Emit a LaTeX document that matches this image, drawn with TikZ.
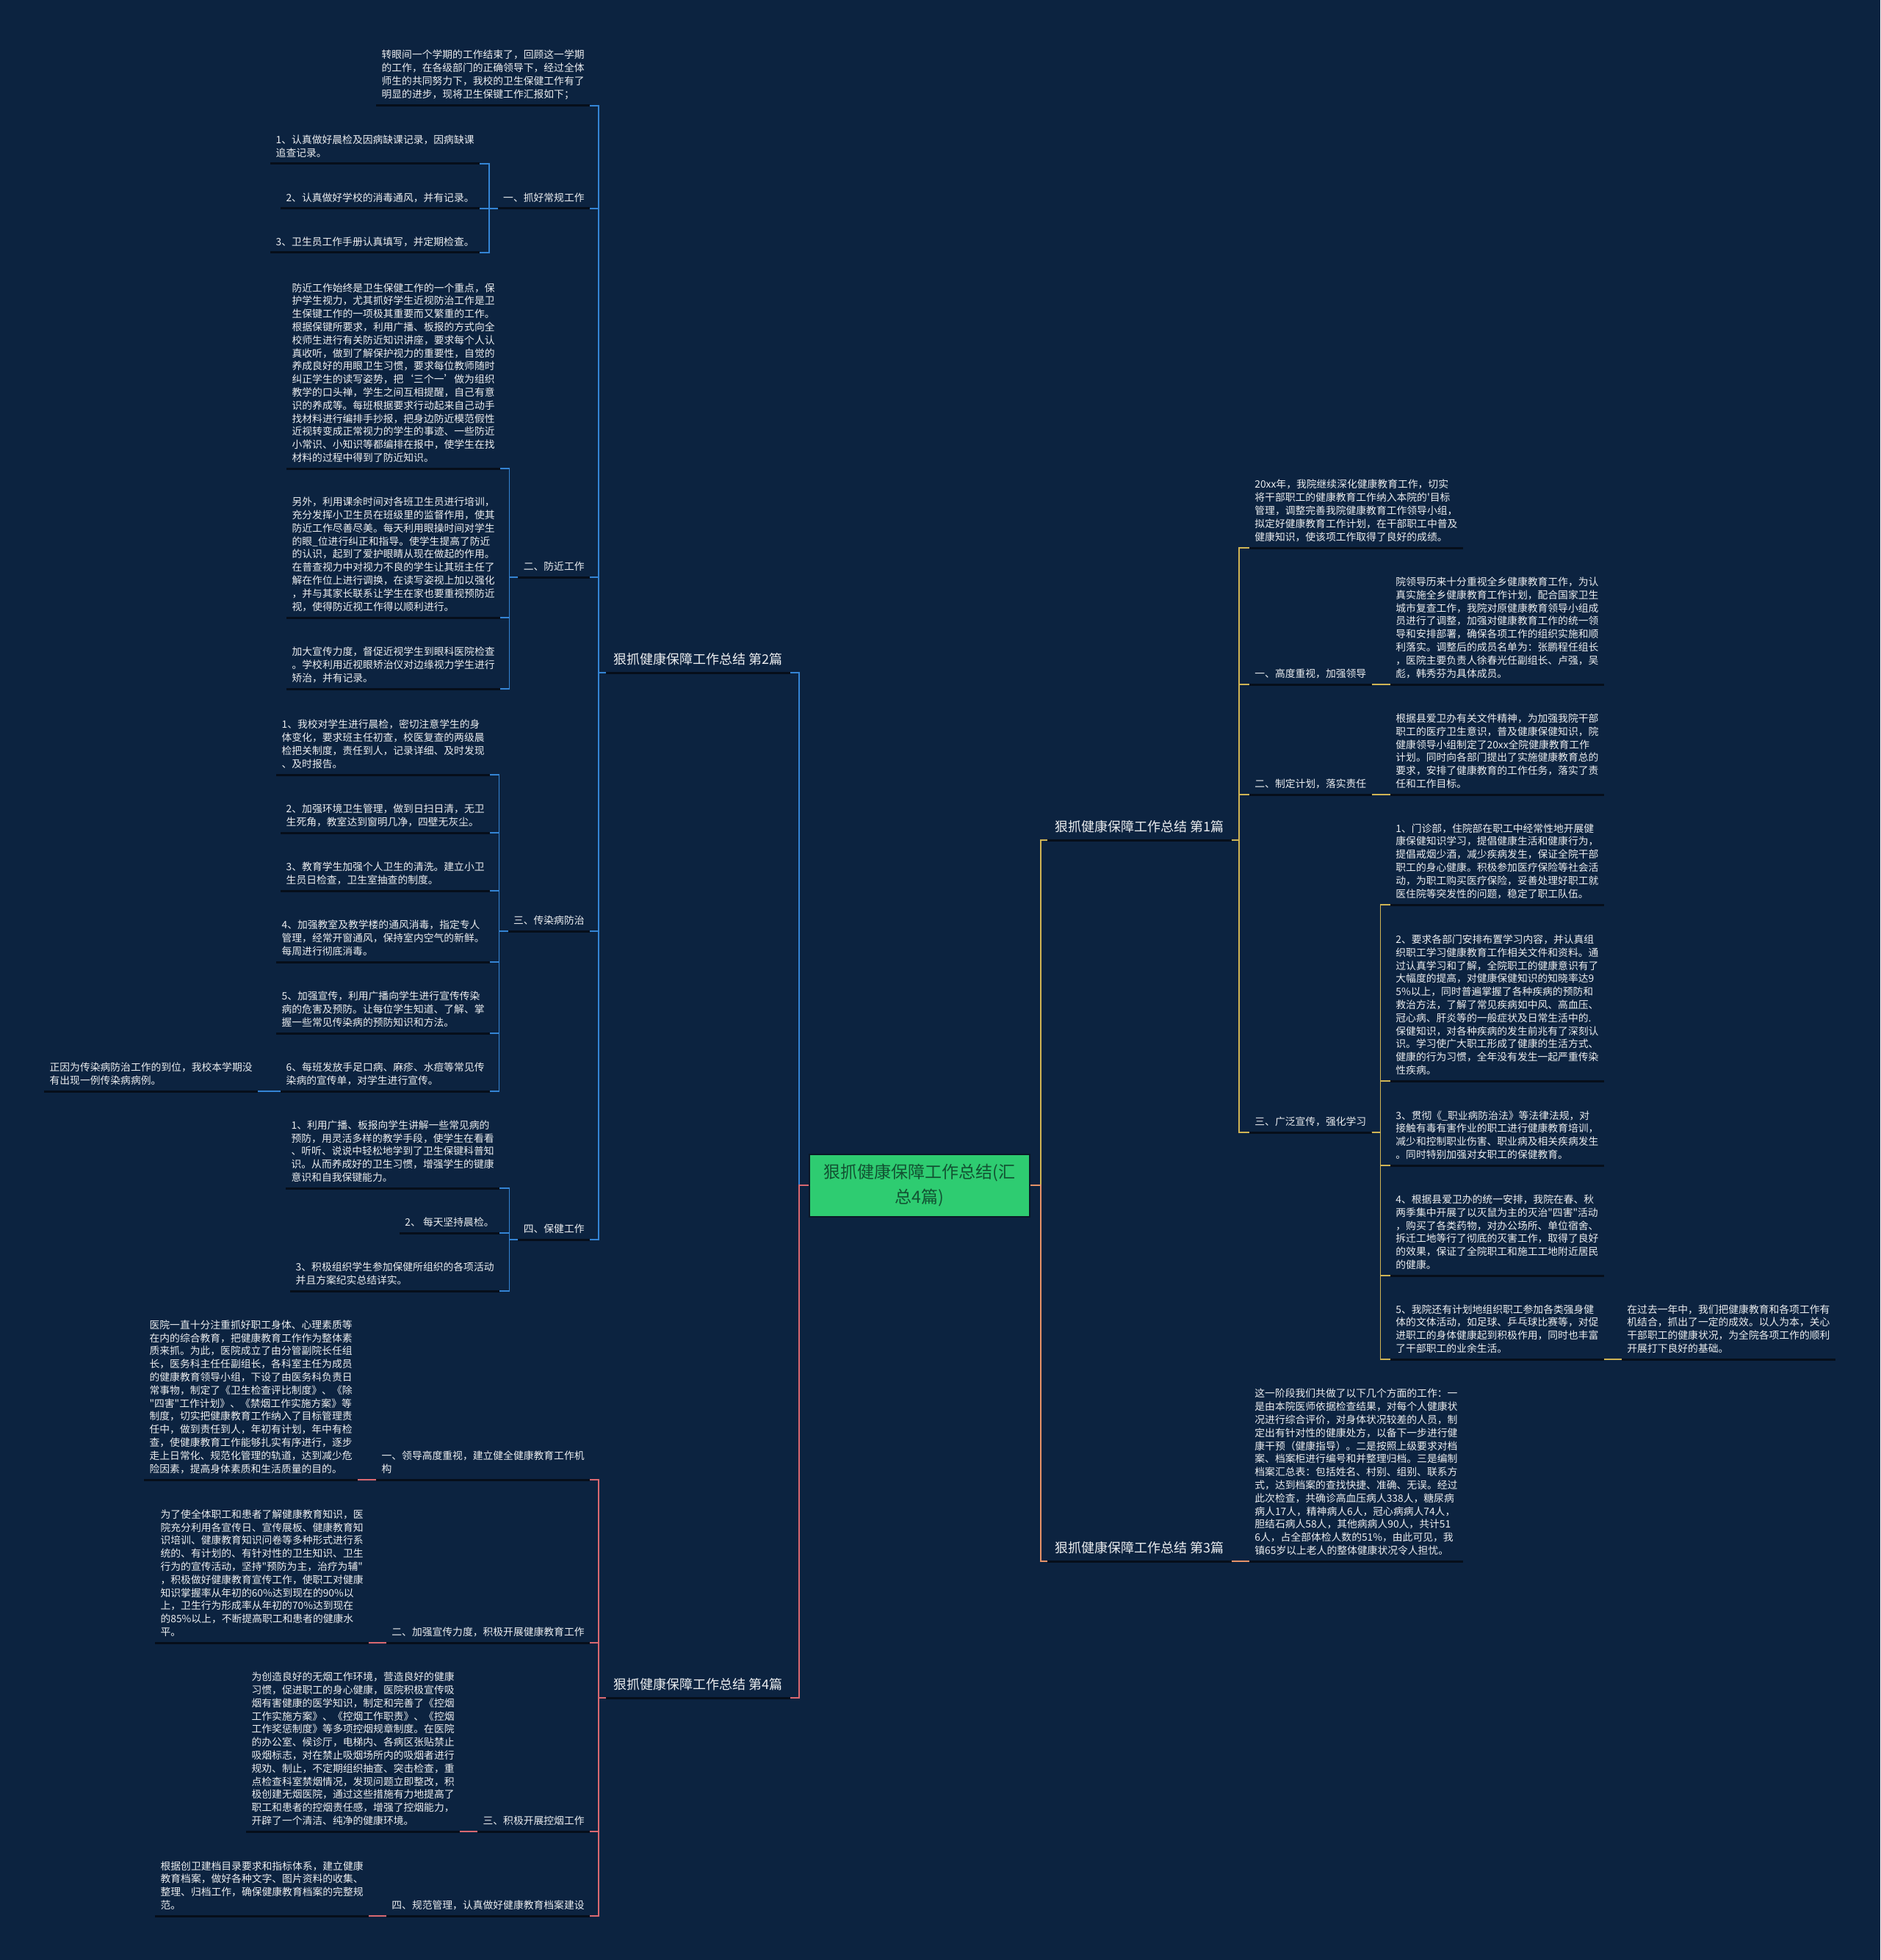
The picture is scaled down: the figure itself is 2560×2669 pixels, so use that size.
\documentclass[tikz,border=0pt]{standalone}
\usepackage{fontspec}
\newfontfamily\cjkfont{Noto Sans CJK SC}
\usetikzlibrary{positioning}

\definecolor{bgnavy}{RGB}{12,35,64}
\definecolor{ulinecol}{RGB}{6,14,26}
\definecolor{leaftext}{RGB}{236,238,240}
\definecolor{hubgreen}{RGB}{46,204,113}
\definecolor{hubtext}{RGB}{18,82,50}
\definecolor{hubedge}{RGB}{10,24,40}
\definecolor{bluecol}{RGB}{52,132,212}
\definecolor{pinkcol}{RGB}{218,104,112}
\definecolor{goldcol}{RGB}{208,180,84}
\definecolor{orangecol}{RGB}{230,146,104}

\newcommand{\leaffont}{\cjkfont\fontsize{6.9pt}{8.9pt}\selectfont}
\newcommand{\titlefont}{\cjkfont\fontsize{9pt}{11pt}\selectfont}
\newcommand{\hubfont}{\cjkfont\fontsize{11.5pt}{17pt}\selectfont}

\begin{document}
\begin{tikzpicture}[
  x=0.5pt, y=-0.5pt,
  uline/.style={draw=ulinecol,line width=1.5pt},
  leaf/.style={font=\leaffont,text=leaftext,align=left,inner xsep=3.5pt,inner ysep=4pt,
               append after command={(\tikzlastnode.south west) edge[uline] (\tikzlastnode.south east)}},
  title/.style={leaf,font=\titlefont,inner xsep=5pt,inner ysep=5pt},
  hub/.style={fill=hubgreen,draw=hubedge,line width=1pt,minimum width=150pt,minimum height=42.5pt,
              inner sep=0pt,font=\hubfont,text=hubtext,align=center},
  blueline/.style={draw=bluecol,line width=0.8pt},
  pinkline/.style={draw=pinkcol,line width=0.8pt},
  goldline/.style={draw=goldcol,line width=0.8pt},
  orangeline/.style={draw=orangecol,line width=0.8pt}
]
\fill[bgnavy] (0,0) rectangle (2560,2669);
\useasboundingbox (0,0) rectangle (2560,2669);

% centre
\node[hub] (hub) at (1252,1614) {狠抓健康保障工作总结(汇\\总4篇)};

\node[title,anchor=south east] (t2) at (1076,916) {狠抓健康保障工作总结 第2篇};
\node[title,anchor=south east] (t4) at (1076,2312) {狠抓健康保障工作总结 第4篇};
\node[title,anchor=south west] (t1) at (1426,1144) {狠抓健康保障工作总结 第1篇};
\node[title,anchor=south west] (t3) at (1426,2126) {狠抓健康保障工作总结 第3篇};

\draw[blueline] (hub.west) -- ++(-13,0) |- (t2.south east);
\draw[pinkline] (hub.west) -- ++(-13,0) |- (t4.south east);
\draw[goldline] (hub.east) -- ++(14,0) |- (t1.south west);
\draw[orangeline] (hub.east) -- ++(14,0) |- (t3.south west);

% 第2篇
\node[leaf,anchor=south east] (l2intro) at (803,144) {转眼间一个学期的工作结束了，回顾这一学期\\
的工作，在各级部门的正确领导下，经过全体\\
师生的共同努力下，我校的卫生保健工作有了\\
明显的进步，现将卫生保键工作汇报如下；};

\node[leaf,anchor=south east] (l2a) at (803,284) {一、抓好常规工作};
\node[leaf,anchor=south east] (l2a1) at (653,223) {1、认真做好晨检及因病缺课记录，因病缺课\\
追查记录。};
\node[leaf,anchor=south east] (l2a2) at (653,284) {2、认真做好学校的消毒通风，并有记录。};
\node[leaf,anchor=south east] (l2a3) at (653,344) {3、卫生员工作手册认真填写，并定期检查。};

\node[leaf,anchor=south east] (l2b) at (803,786) {二、防近工作};
\node[leaf,anchor=south east] (l2b1) at (681,638) {防近工作始终是卫生保健工作的一个重点，保\\
护学生视力，尤其抓好学生近视防治工作是卫\\
生保键工作的一项极其重要而又繁重的工作。\\
根据保键所要求，利用广播、板报的方式向全\\
校师生进行有关防近知识讲座，要求每个人认\\
真收听，做到了解保护视力的重要性，自觉的\\
养成良好的用眼卫生习惯，要求每位教师随时\\
纠正学生的读写姿势，把‘三个一’做为组织\\
教学的口头禅，学生之间互相提醒，自己有意\\
识的养成等。每班根据要求行动起来自己动手\\
找材料进行编排手抄报，把身边防近模范假性\\
近视转变成正常视力的学生的事迹、一些防近\\
小常识、小知识等都编排在报中，使学生在找\\
材料的过程中得到了防近知识。};
\node[leaf,anchor=south east] (l2b2) at (681,841) {另外，利用课余时间对各班卫生员进行培训，\\
充分发挥小卫生员在班级里的监督作用，使其\\
防近工作尽善尽美。每天利用眼操时间对学生\\
的眼\_位进行纠正和指导。使学生提高了防近\\
的认识，起到了爱护眼睛从现在做起的作用。\\
在普查视力中对视力不良的学生让其班主任了\\
解在作位上进行调换，在读写姿视上加以强化\\
，并与其家长联系让学生在家也要重视预防近\\
视，使得防近视工作得以顺利进行。};
\node[leaf,anchor=south east] (l2b3) at (681,938) {加大宣传力度，督促近视学生到眼科医院检查\\
。学校利用近视眼矫治仪对边缘视力学生进行\\
矫治，并有记录。};

\node[leaf,anchor=south east] (l2c) at (803,1268) {三、传染病防治};
\node[leaf,anchor=south east] (l2c1) at (667,1055) {1、我校对学生进行晨检，密切注意学生的身\\
体变化，要求班主任初查，校医复查的两级晨\\
检把关制度，责任到人，记录详细、及时发现\\
、及时报告。};
\node[leaf,anchor=south east] (l2c2) at (667,1134) {2、加强环境卫生管理，做到日扫日清，无卫\\
生死角，教室达到窗明几净，四壁无灰尘。};
\node[leaf,anchor=south east] (l2c3) at (667,1213) {3、教育学生加强个人卫生的清洗。建立小卫\\
生员日检查，卫生室抽查的制度。};
\node[leaf,anchor=south east] (l2c4) at (667,1310) {4、加强教室及教学楼的通风消毒，指定专人\\
管理，经常开窗通风，保持室内空气的新鲜。\\
每周进行彻底消毒。};
\node[leaf,anchor=south east] (l2c5) at (667,1407) {5、加强宣传，利用广播向学生进行宣传传染\\
病的危害及预防。让每位学生知道、了解、掌\\
握一些常见传染病的预防知识和方法。};
\node[leaf,anchor=south east] (l2c6) at (667,1486) {6、每班发放手足口病、麻疹、水痘等常见传\\
染病的宣传单，对学生进行宣传。};
\node[leaf,anchor=south east] (l2c6a) at (351,1486) {正因为传染病防治工作的到位，我校本学期没\\
有出现一例传染病病例。};

\node[leaf,anchor=south east] (l2d) at (803,1688) {四、保健工作};
\node[leaf,anchor=south east] (l2d1) at (680,1618) {1、利用广播、板报向学生讲解一些常见病的\\
预防，用灵活多样的教学手段，使学生在看看\\
、听听、说说中轻松地学到了卫生保键科普知\\
识。从而养成好的卫生习惯，增强学生的键康\\
意识和自我保键能力。};
\node[leaf,anchor=south east] (l2d2) at (680,1679) {2、 每天坚持晨检。};
\node[leaf,anchor=south east] (l2d3) at (680,1758) {3、积极组织学生参加保健所组织的各项活动\\
并且方案纪实总结详实。};

\foreach \n in {l2intro,l2a,l2b,l2c,l2d}
  \draw[blueline] (t2.south west) -- ++(-10,0) |- (\n.south east);
\foreach \n in {l2a1,l2a2,l2a3}
  \draw[blueline] (l2a.south west) -- ++(-12,0) |- (\n.south east);
\foreach \n in {l2b1,l2b2,l2b3}
  \draw[blueline] (l2b.south west) -- ++(-12,0) |- (\n.south east);
\foreach \n in {l2c1,l2c2,l2c3,l2c4,l2c5,l2c6}
  \draw[blueline] (l2c.south west) -- ++(-12,0) |- (\n.south east);
\foreach \n in {l2d1,l2d2,l2d3}
  \draw[blueline] (l2d.south west) -- ++(-12,0) |- (\n.south east);
\draw[blueline] (l2c6.south west) -- (l2c6a.south east);

% 第4篇
\node[leaf,anchor=south east] (l4a) at (803,2015) {一、领导高度重视，建立健全健康教育工作机\\
构};
\node[leaf,anchor=south east] (l4a1) at (487,2015) {医院一直十分注重抓好职工身体、心理素质等\\
在内的综合教育，把健康教育工作作为整体素\\
质来抓。为此，医院成立了由分管副院长任组\\
长，医务科主任任副组长，各科室主任为成员\\
的健康教育领导小组，下设了由医务科负责日\\
常事物，制定了《卫生检查评比制度》、《除\\
"四害"工作计划》、《禁烟工作实施方案》等\\
制度，切实把健康教育工作纳入了目标管理责\\
任中，做到责任到人，年初有计划，年中有检\\
查，使健康教育工作能够扎实有序进行，逐步\\
走上日常化、规范化管理的轨道，达到减少危\\
险因素，提高身体素质和生活质量的目的。};
\node[leaf,anchor=south east] (l4b) at (803,2237) {二、加强宣传力度，积极开展健康教育工作};
\node[leaf,anchor=south east] (l4b1) at (502,2237) {为了使全体职工和患者了解健康教育知识，医\\
院充分利用各宣传日、宣传展板、健康教育知\\
识培训、健康教育知识问卷等多种形式进行系\\
统的、有计划的、有针对性的卫生知识、卫生\\
行为的宣传活动，坚持"预防为主，治疗为辅"\\
，积极做好健康教育宣传工作，使职工对健康\\
知识掌握率从年初的60\%达到现在的90\%以\\
上，卫生行为形成率从年初的70\%达到现在\\
的85\%以上，不断提高职工和患者的健康水\\
平。};
\node[leaf,anchor=south east] (l4c) at (803,2494) {三、积极开展控烟工作};
\node[leaf,anchor=south east] (l4c1) at (626,2494) {为创造良好的无烟工作环境，营造良好的健康\\
习惯，促进职工的身心健康，医院积极宣传吸\\
烟有害健康的医学知识，制定和完善了《控烟\\
工作实施方案》、《控烟工作职责》、《控烟\\
工作奖惩制度》等多项控烟规章制度。在医院\\
的办公室、候诊厅，电梯内、各病区张贴禁止\\
吸烟标志，对在禁止吸烟场所内的吸烟者进行\\
规劝、制止，不定期组织抽查、突击检查，重\\
点检查科室禁烟情况，发现问题立即整改，积\\
极创建无烟医院，通过这些措施有力地提高了\\
职工和患者的控烟责任感，增强了控烟能力，\\
开辟了一个清洁、纯净的健康环境。};
\node[leaf,anchor=south east] (l4d) at (803,2609) {四、规范管理，认真做好健康教育档案建设};
\node[leaf,anchor=south east] (l4d1) at (502,2609) {根据创卫建档目录要求和指标体系，建立健康\\
教育档案，做好各种文字、图片资料的收集、\\
整理、归档工作，确保健康教育档案的完整规\\
范。};

\foreach \n in {l4a,l4b,l4c,l4d}
  \draw[pinkline] (t4.south west) -- ++(-10,0) |- (\n.south east);
\draw[pinkline] (l4a.south west) -- (l4a1.south east);
\draw[pinkline] (l4b.south west) -- (l4b1.south east);
\draw[pinkline] (l4c.south west) -- (l4c1.south east);
\draw[pinkline] (l4d.south west) -- (l4d1.south east);

% 第1篇
\node[leaf,anchor=south west] (r1intro) at (1701,746) {20xx年，我院继续深化健康教育工作，切实\\
将干部职工的健康教育工作纳入本院的'目标\\
管理，调整完善我院健康教育工作领导小组，\\
拟定好健康教育工作计划，在干部职工中普及\\
健康知识，使该项工作取得了良好的成绩。};
\node[leaf,anchor=south west] (r1a) at (1701,932) {一、高度重视，加强领导};
\node[leaf,anchor=south west] (r1a1) at (1893,932) {院领导历来十分重视全乡健康教育工作，为认\\
真实施全乡健康教育工作计划，配合国家卫生\\
城市复查工作，我院对原健康教育领导小组成\\
员进行了调整，加强对健康教育工作的统一领\\
导和安排部署，确保各项工作的组织实施和顺\\
利落实。调整后的成员名单为：张鹏程任组长\\
，医院主要负责人徐春光任副组长、卢强，吴\\
彪，韩秀芬为具体成员。};
\node[leaf,anchor=south west] (r1b) at (1701,1082) {二、制定计划，落实责任};
\node[leaf,anchor=south west] (r1b1) at (1893,1082) {根据县爱卫办有关文件精神，为加强我院干部\\
职工的医疗卫生意识，普及健康保健知识，院\\
健康领导小组制定了20xx全院健康教育工作\\
计划。同时向各部门提出了实施健康教育总的\\
要求，安排了健康教育的工作任务，落实了责\\
任和工作目标。};
\node[leaf,anchor=south west] (r1c) at (1701,1542) {三、广泛宣传，强化学习};
\node[leaf,anchor=south west] (r1c1) at (1893,1232) {1、门诊部，住院部在职工中经常性地开展健\\
康保健知识学习，提倡健康生活和健康行为，\\
提倡戒烟少酒，减少疾病发生，保证全院干部\\
职工的身心健康。积极参加医疗保险等社会活\\
动，为职工购买医疗保险，妥善处理好职工就\\
医住院等突发性的问题，稳定了职工队伍。};
\node[leaf,anchor=south west] (r1c2) at (1893,1472) {2、要求各部门安排布置学习内容，并认真组\\
织职工学习健康教育工作相关文件和资料。通\\
过认真学习和了解，全院职工的健康意识有了\\
大幅度的提高，对健康保健知识的知晓率达9\\
5\%以上，同时普遍掌握了各种疾病的预防和\\
救治方法，了解了常见疾病如中风、高血压、\\
冠心病、肝炎等的一般症状及日常生活中的.\\
保健知识，对各种疾病的发生前兆有了深刻认\\
识。学习使广大职工形成了健康的生活方式、\\
健康的行为习惯，全年没有发生一起严重传染\\
性疾病。};
\node[leaf,anchor=south west] (r1c3) at (1893,1587) {3、贯彻《\_职业病防治法》等法律法规，对\\
接触有毒有害作业的职工进行健康教育培训，\\
减少和控制职业伤害、职业病及相关疾病发生\\
。同时特别加强对女职工的保健教育。};
\node[leaf,anchor=south west] (r1c4) at (1893,1737) {4、根据县爱卫办的统一安排，我院在春、秋\\
两季集中开展了以灭鼠为主的灭治"四害"活动\\
，购买了各类药物，对办公场所、单位宿舍、\\
拆迁工地等行了彻底的灭害工作，取得了良好\\
的效果，保证了全院职工和施工工地附近居民\\
的健康。};
\node[leaf,anchor=south west] (r1c5) at (1893,1851) {5、我院还有计划地组织职工参加各类强身健\\
体的文体活动，如足球、乒乓球比赛等，对促\\
进职工的身体健康起到积极作用，同时也丰富\\
了干部职工的业余生活。};
\node[leaf,anchor=south west] (r1c5a) at (2208,1851) {在过去一年中，我们把健康教育和各项工作有\\
机结合，抓出了一定的成效。以人为本，关心\\
干部职工的健康状况，为全院各项工作的顺利\\
开展打下良好的基础。};

\foreach \n in {r1intro,r1a,r1b,r1c}
  \draw[goldline] (t1.south east) -- ++(10,0) |- (\n.south west);
\draw[goldline] (r1a.south east) -- (r1a1.south west);
\draw[goldline] (r1b.south east) -- (r1b1.south west);
\foreach \n in {r1c1,r1c2,r1c3,r1c4,r1c5}
  \draw[goldline] (r1c.south east) -- ++(12,0) |- (\n.south west);
\draw[goldline] (r1c5.south east) -- (r1c5a.south west);

% 第3篇
\node[leaf,anchor=south west] (r3a) at (1701,2126) {这一阶段我们共做了以下几个方面的工作：一\\
是由本院医师依据检查结果，对每个人健康状\\
况进行综合评价，对身体状况较差的人员，制\\
定出有针对性的健康处方，以备下一步进行健\\
康干预（健康指导）。二是按照上级要求对档\\
案、档案柜进行编号和并整理归档。三是编制\\
档案汇总表：包括姓名、村别、组别、联系方\\
式，达到档案的查找快捷、准确、无误。经过\\
此次检查，共确诊高血压病人338人，糖尿病\\
病人17人，精神病人6人，冠心病病人74人，\\
胆结石病人58人，其他病病人90人，共计51\\
6人，占全部体检人数的51\%，由此可见，我\\
镇65岁以上老人的整体健康状况令人担忧。};
\draw[orangeline] (t3.south east) -- ++(10,0) |- (r3a.south west);

\end{tikzpicture}
\end{document}
